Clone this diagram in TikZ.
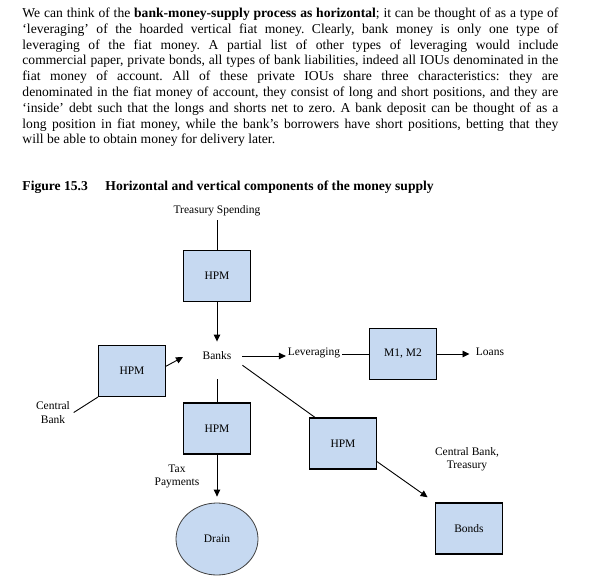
\documentclass[tikz,border=0pt]{standalone}
\usepackage{fontspec}
\setmainfont{Liberation Serif}
\usetikzlibrary{arrows.meta,shapes.geometric}
\definecolor{boxblue}{RGB}{198,217,241}
\frenchspacing

\begin{document}
\begin{tikzpicture}[x=1pt,y=-1pt,line width=0.9pt,
  box/.style={draw,line width=1.1pt,fill=boxblue,minimum width=67pt,minimum height=51pt,font=\fontsize{11.5}{13.5}\selectfont},
  lbl/.style={font=\fontsize{11.5}{13.5}\selectfont,align=center},
  arr/.style={-{Triangle[length=7pt,width=6.5pt]}}]
\useasboundingbox (0,0) rectangle (601,575);

% the text above the figure
\node[anchor=north west,inner sep=0pt,align=left,font=\fontsize{13.6}{15.8}\selectfont] (para) at (22,7.4) {%
\makebox[536pt][s]{We can think of the \textbf{bank-money-supply process as horizontal}; it can be thought of as a type of}\\
\makebox[536pt][s]{‘leveraging’ of the hoarded vertical fiat money. Clearly, bank money is only one type of}\\
\makebox[536pt][s]{leveraging of the fiat money. A partial list of other types of leveraging would include}\\
\makebox[536pt][s]{commercial paper, private bonds, all types of bank liabilities, indeed all IOUs denominated in the}\\
\makebox[536pt][s]{fiat money of account. All of these private IOUs share three characteristics: they are}\\
\makebox[536pt][s]{denominated in the fiat money of account, they consist of long and short positions, and they are}\\
\makebox[536pt][s]{‘inside’ debt such that the longs and shorts net to zero. A bank deposit can be thought of as a}\\
\makebox[536pt][s]{long position in fiat money, while the bank’s borrowers have short positions, betting that they}\\
will be able to obtain money for delivery later.};
\node[anchor=base west,inner sep=0pt,font=\fontsize{13.6}{15.8}\selectfont\bfseries] (caption) at (22,190)
  {\makebox[83pt][l]{Figure 15.3}Horizontal and vertical components of the money supply};

% boxes
\foreach \n/\x/\y in {top/217/276,left/132/371,mid/217/428.5,right/343/443.5}
\node[box] (hpm\n) at (\x,\y) {HPM};
\node[box] (money) at (403,354) {M1, M2};
\node[box] (bonds) at (469,528.5) {Bonds};
\node[box,ellipse,line width=0.8pt,draw=black!75,minimum width=82pt,minimum height=72pt] (drain) at (217,539) {Drain};

% labels
\node[lbl] (treasury) at (217,211) {Treasury Spending};
\node[lbl,minimum width=50pt,minimum height=28pt,inner sep=0pt] (banks) at (217,356) {Banks};
\node[lbl,inner sep=1.5pt] (lever) at (314,353) {Leveraging};
\node[lbl,inner xsep=6pt] (loans) at (490,352) {Loans};
\node[lbl] (cb) at (53,412.5) {Central\\Bank};
\node[lbl] (tax) at (177,476.5) {Tax\\Payments};
\node[lbl] (cbt) at (467,459) {Central Bank,\\Treasury};
\coordinate (bankin) at (183,357);

% vertical flows
\draw (treasury) -- (hpmtop);
\draw[arr] (hpmtop) -- (banks);
\draw[shorten <=9pt] (banks) -- (hpmmid);
\draw[arr,shorten >=6pt] (hpmmid) -- (drain);
\draw (cb.east) -- (hpmleft.south west);
\draw[arr] (hpmleft.8) -- (bankin);

% horizontal flows
\draw[arr] (banks.east) -- (banks.east -| lever.west);
\draw (money.west -| lever.east) -- (money.west);
\draw[arr] (money.east) -- (money.east -| loans.west);
\draw (banks.-20) -- (hpmright.137);
\draw[arr,shorten >=9pt] (hpmright.-28) -- (bonds.north west);
\end{tikzpicture}
\end{document}
